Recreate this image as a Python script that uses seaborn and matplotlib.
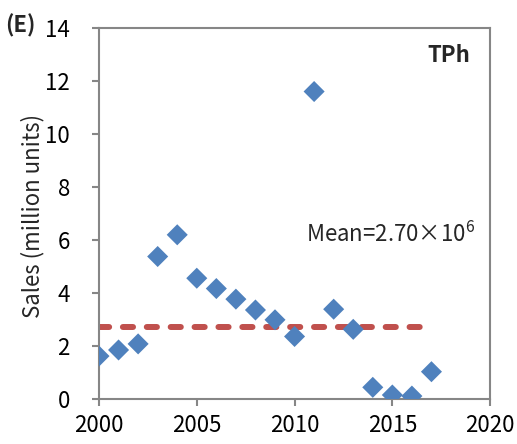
import pandas as pd
import matplotlib.pyplot as plt
import seaborn as sns

# Data
years = [2000, 2001, 2002, 2003, 2004, 2005, 2006, 2007, 2008,
         2009, 2010, 2011, 2012, 2013, 2014, 2015, 2016, 2017]
sales = [1.61, 1.84, 2.07, 5.37, 6.19, 4.55, 4.16, 3.76, 3.35,
         2.98, 2.35, 11.6, 3.38, 2.62, 0.43, 0.14, 0.10, 1.02]
mean_years = [2000, 2017]
mean_value = [2.70, 2.70]

sns.set_style('white')
font = 'Noto Sans CJK SC'
plt.rcParams['font.family'] = [font, 'DejaVu Sans']
plt.rcParams['mathtext.fontset'] = 'custom'
plt.rcParams['mathtext.rm'] = font
plt.rcParams['mathtext.it'] = font

df = pd.DataFrame({'Year': years, 'Sales': sales})
mean_df = pd.DataFrame({'Year': mean_years, 'Sales': mean_value})

fig = plt.figure(figsize=(5.17, 4.44), dpi=100)
ax = fig.add_axes([0.1915, 0.102, 0.7565, 0.835])

sns.lineplot(x='Year', y='Sales', data=mean_df, ax=ax, color='#C0504D',
             linewidth=4.3)
ax.lines[0].set_dashes((1.7, 2.3))
ax.lines[0].set_dash_capstyle('round')

sns.scatterplot(x='Year', y='Sales', data=df, ax=ax, marker='D', s=115,
                color='#4F81BD', edgecolor='none', zorder=3)

ax.set_xlim(2000, 2020)
ax.set_ylim(0, 14)
ax.set_xticks(range(2000, 2021, 5))
ax.set_yticks(range(0, 15, 2))
ax.set_xlabel('')
ax.set_ylabel('')

for s in ax.spines.values():
    s.set_color('#868686')
    s.set_linewidth(1.5)
ax.tick_params(axis='both', direction='out', length=5, width=1.5,
               color='#868686', labelsize=16, labelcolor='black',
               bottom=True, left=True)
ax.tick_params(axis='y', pad=16)
ax.tick_params(axis='x', pad=6)

fig.text(0.0638, 0.5135, 'Sales (million units)', rotation=90,
         fontsize=16, ha='center', va='center')
fig.text(0.909, 0.860, 'TPh', fontsize=16, fontweight='bold',
         ha='right', va='baseline')
fig.text(0.592, 0.4556, 'Mean=2.70×10$^{6}$', fontsize=16,
         ha='left', va='baseline')
fig.text(0.0097, 0.928, '(E)', fontsize=16, fontweight='bold',
         ha='left', va='baseline')

fig.savefig('out.png', dpi=100)
